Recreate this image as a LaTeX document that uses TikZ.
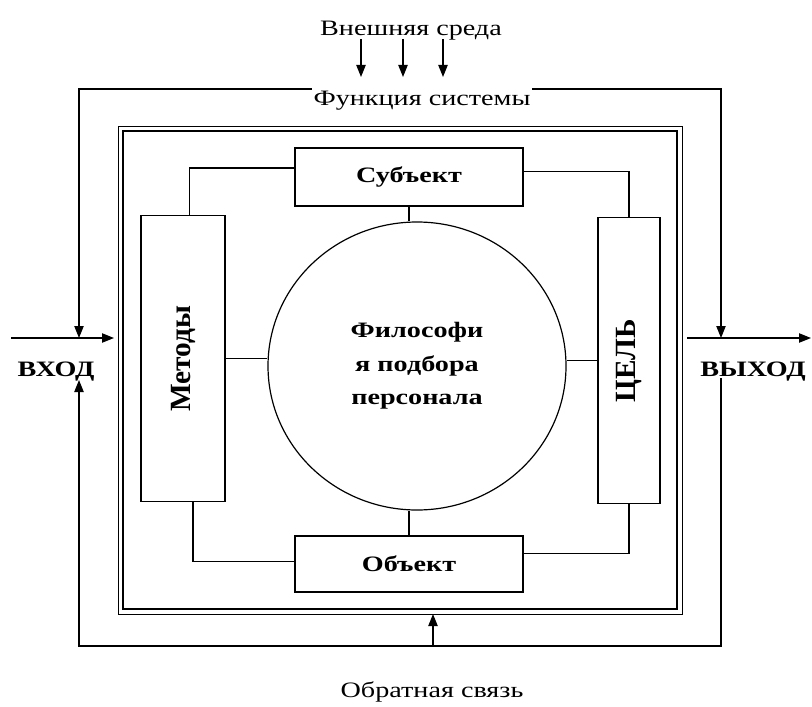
\documentclass[tikz,border=0pt]{standalone}
\usepackage{graphicx}
\usepackage{fontspec}
\setmainfont{Liberation Serif}
\newfontfamily\widefont{Liberation Serif}[FakeStretch=1.28]
\usetikzlibrary{arrows.meta, shapes.geometric}
\tikzset{block/.style={draw, line width=0.9pt, inner sep=0pt,
            font=\widefont\bfseries\fontsize{16.5}{25}\selectfont},
         side/.style={draw, line width=0.9pt, inner sep=0pt,
            font=\bfseries\fontsize{22}{24}\selectfont},
         plain txt/.style={inner sep=1pt, font=\widefont\fontsize{16.5}{18}\selectfont},
         bold txt/.style={inner sep=1pt, font=\widefont\bfseries\fontsize{16.5}{18}\selectfont}}

\begin{document}
\begin{tikzpicture}[x=0.75pt, y=-0.75pt, line width=0.9pt,
        >={Triangle[length=9pt, width=7pt]}]
        \useasboundingbox (0,0) rectangle (812,706);
        % double frame of the system
        \draw[line width=0.6pt] (118,126) rectangle (682,614);
        \draw[line width=1.8pt] (123,131) rectangle (677,609);
        %
        \node[block, minimum width=171pt, minimum height=43.5pt] (subj) at (409,177) {Субъект};
        \node[block, minimum width=171pt, minimum height=42pt] (obj) at (409,564) {Объект};
        \node[side, minimum width=63pt, minimum height=215pt] (met) at (183,358.5) {\rotatebox{90}{Методы}};
        \node[side, minimum width=46.5pt, minimum height=215pt] (goal) at (629,360.5) {\rotatebox{90}{ЦЕЛЬ}};
        \node[block, ellipse, minimum width=223.5pt, minimum height=216pt, align=center] (phil) at (417,366)
            {Философи\\я подбора\\персонала};
        %
        \draw ([yshift=6.75pt]subj.west) -| ([xshift=5pt]met.north);
        \draw ([yshift=4pt]subj.east) -| (goal.north);
        \draw ([xshift=7.5pt]met.south) |- ([yshift=2pt]obj.west);
        \draw ([yshift=8pt]obj.east) -| (goal.south);
        \draw (subj.south) -- (subj.south |- phil.north);
        \draw (obj.north) -- (obj.north |- phil.south);
        \draw (met.east) -- (met.east -| phil.west);
        \draw (goal.west) -- (goal.west -| phil.east);
        %
        \node[plain txt, anchor=base] (env) at (411,36) {Внешняя среда};
        \node[plain txt, anchor=base] (func) at (422,106) {Функция системы};
        \node[plain txt, anchor=base] (fback) at (432,697) {Обратная связь};
        \node[bold txt, anchor=base] (vhod) at (56,376) {ВХОД};
        \node[bold txt, anchor=base] (vyhod) at (753,376) {ВЫХОД};
        \foreach \x in {361,403,443}
            \draw[->] (\x,39) -- (\x,77);
        %
        \coordinate (c1) at (79,89);
        \coordinate (c2) at (721,89);
        \coordinate (c3) at (721,646);
        \coordinate (c4) at (79,646);
        \coordinate (inL) at (79,338);
        \coordinate (inR) at (721,338);
        \draw[->] (func.west |- c1) -- (c1) -- (inL);
        \draw[->] (func.east |- c2) -- (c2) -- (inR);
        \draw[->] (721,378) -- (c3) -- (c4) -- (79,380);
        \draw[->] (433,646) -- (433,614);
        \draw[->] (11,338) -- (114,338);
        \draw[->] (687,338) -- (811,338);
    \end{tikzpicture}
\end{document}
